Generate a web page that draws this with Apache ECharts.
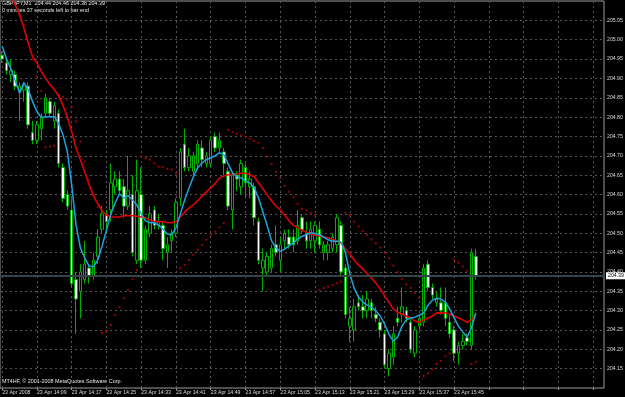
<!DOCTYPE html>
<html>
<head>
<meta charset="utf-8">
<title>GBPJPY,M1</title>
<script src="https://cdn.jsdelivr.net/npm/echarts@6/dist/echarts.min.js"></script>
<style>
html, body { margin: 0; padding: 0; background: #000; }
#chart { width: 625px; height: 397px; }
</style>
</head>
<body>
<div id="chart"></div>
<script>
// one-minute bars, 23 Apr 2008, 14:01 .. 15:50
const openPrices = [
  204.96, 204.94, 204.91, 204.91, 204.87, 204.87, 204.88, 204.76, 204.74, 204.77,
  204.81, 204.84, 204.79, 204.81, 204.67, 204.60, 204.56, 204.38, 204.35, 204.38,
  204.41, 204.39, 204.44, 204.51, 204.55, 204.56, 204.62, 204.64, 204.62, 204.57,
  204.60, 204.43, 204.60, 204.43, 204.50, 204.56, 204.52, 204.52, 204.45, 204.48,
  204.50, 204.59, 204.73, 204.67, 204.66, 204.68, 204.72, 204.68, 204.68, 204.75,
  204.72, 204.71, 204.66, 204.56, 204.65, 204.62, 204.67, 204.62, 204.62, 204.53,
  204.41, 204.40, 204.41, 204.47, 204.43, 204.48, 204.49, 204.49, 204.48, 204.54,
  204.50, 204.48, 204.48, 204.51, 204.45, 204.45, 204.46, 204.47, 204.52, 204.41,
  204.26, 204.25, 204.32, 204.31, 204.30, 204.32, 204.29, 204.27, 204.24, 204.15,
  204.18, 204.28, 204.29, 204.30, 204.27, 204.19, 204.26, 204.27, 204.42, 204.36,
  204.32, 204.32, 204.32, 204.27, 204.25, 204.19, 204.21, 204.23, 204.21, 204.44
];
const highPrices = [
  204.97, 204.95, 204.95, 204.92, 204.89, 204.89, 204.89, 204.79, 204.79, 204.81,
  204.86, 204.85, 204.84, 204.82, 204.68, 204.61, 204.59, 204.40, 204.42, 204.48,
  204.42, 204.45, 204.51, 204.57, 204.56, 204.68, 204.66, 204.66, 204.64, 204.70,
  204.65, 204.69, 204.67, 204.52, 204.57, 204.57, 204.55, 204.53, 204.49, 204.51,
  204.59, 204.72, 204.77, 204.72, 204.71, 204.74, 204.74, 204.71, 204.75, 204.76,
  204.76, 204.72, 204.67, 204.66, 204.66, 204.69, 204.68, 204.66, 204.63, 204.54,
  204.46, 204.45, 204.47, 204.52, 204.49, 204.51, 204.51, 204.51, 204.56, 204.55,
  204.53, 204.53, 204.53, 204.53, 204.48, 204.48, 204.50, 204.55, 204.53, 204.42,
  204.31, 204.33, 204.34, 204.34, 204.35, 204.33, 204.31, 204.28, 204.25, 204.20,
  204.26, 204.31, 204.36, 204.31, 204.28, 204.26, 204.29, 204.42, 204.43, 204.37,
  204.35, 204.36, 204.36, 204.29, 204.26, 204.22, 204.24, 204.24, 204.46, 204.46
];
const lowPrices = [
  204.94, 204.91, 204.89, 204.87, 204.79, 204.84, 204.77, 204.73, 204.73, 204.74,
  204.80, 204.80, 204.77, 204.67, 204.58, 204.56, 204.36, 204.24, 204.28, 204.37,
  204.37, 204.38, 204.42, 204.50, 204.50, 204.53, 204.60, 204.60, 204.54, 204.56,
  204.44, 204.42, 204.41, 204.42, 204.49, 204.51, 204.51, 204.43, 204.41, 204.45,
  204.49, 204.57, 204.66, 204.66, 204.65, 204.67, 204.67, 204.67, 204.67, 204.71,
  204.71, 204.65, 204.56, 204.51, 204.61, 204.60, 204.59, 204.59, 204.52, 204.42,
  204.35, 204.39, 204.40, 204.44, 204.40, 204.46, 204.46, 204.45, 204.47, 204.50,
  204.46, 204.46, 204.45, 204.46, 204.43, 204.43, 204.45, 204.45, 204.39, 204.28,
  204.22, 204.22, 204.30, 204.28, 204.28, 204.28, 204.27, 204.23, 204.15, 204.13,
  204.16, 204.26, 204.27, 204.27, 204.19, 204.18, 204.25, 204.26, 204.35, 204.33,
  204.31, 204.29, 204.26, 204.23, 204.17, 204.16, 204.20, 204.21, 204.20, 204.38
];
const closePrices = [
  204.95, 204.92, 204.92, 204.88, 204.88, 204.88, 204.78, 204.74, 204.78, 204.80,
  204.85, 204.81, 204.83, 204.68, 204.59, 204.57, 204.37, 204.33, 204.40, 204.42,
  204.39, 204.43, 204.49, 204.55, 204.53, 204.63, 204.64, 204.61, 204.57, 204.61,
  204.45, 204.61, 204.43, 204.51, 204.55, 204.52, 204.53, 204.46, 204.47, 204.50,
  204.58, 204.71, 204.67, 204.70, 204.70, 204.73, 204.69, 204.70, 204.74, 204.72,
  204.74, 204.68, 204.57, 204.65, 204.64, 204.68, 204.63, 204.64, 204.54, 204.43,
  204.43, 204.44, 204.46, 204.45, 204.47, 204.50, 204.47, 204.47, 204.52, 204.51,
  204.48, 204.51, 204.52, 204.47, 204.47, 204.47, 204.49, 204.54, 204.40, 204.29,
  204.28, 204.31, 204.31, 204.30, 204.33, 204.30, 204.28, 204.25, 204.16, 204.19,
  204.24, 204.27, 204.31, 204.28, 204.20, 204.25, 204.28, 204.41, 204.36, 204.34,
  204.33, 204.30, 204.28, 204.24, 204.19, 204.21, 204.22, 204.22, 204.45, 204.39
];
// slow moving average (red)
const maSlow = [
  205.160, 205.135, 205.110, 205.090, 205.065, 205.030, 204.990, 204.956, 204.940, 204.918,
  204.900, 204.884, 204.871, 204.855, 204.830, 204.800, 204.762, 204.720, 204.690, 204.659,
  204.625, 204.597, 204.576, 204.558, 204.547, 204.542, 204.542, 204.542, 204.545, 204.545,
  204.545, 204.544, 204.542, 204.540, 204.534, 204.530, 204.530, 204.530, 204.527, 204.527,
  204.530, 204.542, 204.555, 204.565, 204.573, 204.584, 204.597, 204.607, 204.617, 204.628,
  204.643, 204.648, 204.651, 204.653, 204.653, 204.655, 204.655, 204.651, 204.646, 204.630,
  204.615, 204.599, 204.584, 204.570, 204.560, 204.547, 204.532, 204.521, 204.514, 204.507,
  204.503, 204.498, 204.495, 204.493, 204.490, 204.488, 204.484, 204.480, 204.475, 204.459,
  204.446, 204.431, 204.418, 204.408, 204.395, 204.384, 204.371, 204.356, 204.338, 204.322,
  204.304, 204.296, 204.291, 204.286, 204.281, 204.273, 204.270, 204.276, 204.281, 204.286,
  204.294, 204.294, 204.294, 204.291, 204.286, 204.281, 204.276, 204.270, 204.276, 204.291
];
// fast moving average (blue)
const maFast = [
  204.984, 204.950, 204.925, 204.894, 204.862, 204.889, 204.871, 204.840, 204.814, 204.799,
  204.801, 204.801, 204.801, 204.783, 204.754, 204.710, 204.625, 204.521, 204.462, 204.436,
  204.415, 204.413, 204.431, 204.467, 204.508, 204.550, 204.578, 204.602, 204.591, 204.597,
  204.586, 204.573, 204.550, 204.532, 204.527, 204.527, 204.521, 204.511, 204.498, 204.496,
  204.514, 204.550, 204.586, 204.617, 204.646, 204.669, 204.682, 204.690, 204.695, 204.700,
  204.708, 204.703, 204.679, 204.656, 204.646, 204.643, 204.635, 204.630, 204.617, 204.591,
  204.555, 204.519, 204.480, 204.462, 204.453, 204.459, 204.467, 204.475, 204.485, 204.492,
  204.496, 204.501, 204.499, 204.496, 204.490, 204.483, 204.479, 204.479, 204.477, 204.449,
  204.395, 204.358, 204.335, 204.322, 204.314, 204.309, 204.299, 204.286, 204.265, 204.239,
  204.221, 204.231, 204.260, 204.276, 204.281, 204.283, 204.288, 204.294, 204.314, 204.327,
  204.332, 204.330, 204.322, 204.304, 204.281, 204.260, 204.245, 204.232, 204.255, 204.294
];
// parabolic SAR dots
const sarDots = [
  205.182, 205.151, 205.120, 205.091, 205.065, 205.037, 204.993, 204.949, 204.905, 204.868,
  204.722, 204.724, 204.726, 204.858, 204.852, 204.845, 204.826, 204.789, 204.737, 204.685,
  204.638, 204.599, 204.568, 204.242, 204.248, 204.263, 204.289, 204.309, 204.332, 204.353,
  204.381, 204.405, 204.698, 204.694, 204.690, 204.681, 204.672, 204.671, 204.666, 204.664,
  204.655, 204.409, 204.418, 204.431, 204.444, 204.457, 204.470, 204.483, 204.496, 204.504,
  204.515, 204.526, 204.767, 204.762, 204.757, 204.753, 204.749, 204.744, 204.739, 204.734,
  204.720, 204.698, 204.679, 204.659, 204.642, 204.622, 204.607, 204.593, 204.576, 204.563,
  204.559, 204.553, 204.546, 204.353, 204.358, 204.362, 204.366, 204.371, 204.375, 204.553,
  204.547, 204.530, 204.517, 204.506, 204.496, 204.484, 204.474, 204.463, 204.449, 204.435,
  204.416, 204.399, 204.382, 204.368, 204.359, 204.346, 204.333, 204.131, 204.138, 204.148,
  204.162, 204.170, 204.182, 204.189, 204.431, 204.424, 204.414, 204.403, 204.162, 204.168
];
const lastPrice = 204.39;
const firstMinute = 14 * 60 + 1;
const slotCount = 139; // bars plus the empty shift area on the right

let times = [];
for (let i = 0; i < slotCount; i++) {
  let m = firstMinute + i;
  let hh = Math.floor(m / 60);
  let mm = m % 60;
  times.push(hh + ":" + (mm < 10 ? "0" + mm : mm));
}

let candles = [];
for (let i = 0; i < openPrices.length; i++) {
  candles.push([openPrices[i], closePrices[i], lowPrices[i], highPrices[i]]);
}

const font = "Liberation Sans";
const gridColor = "#555555";
const barGreen = "#00b000";

let chart = echarts.init(document.getElementById("chart"), null, { renderer: "canvas" });
chart.setOption({
  animation: false,
  backgroundColor: "#000000",
  grid: {
    left: 0, right: 21, top: 1, bottom: 9,
    show: true,
    borderColor: "#9a9a9a",
    borderWidth: 1,
    outerBoundsMode: "none"
  },
  xAxis: {
    type: "category",
    data: times,
    boundaryGap: true,
    axisLine: { show: false },
    axisTick: { show: true, interval: 7, alignWithLabel: true, length: 2, lineStyle: { color: "#9a9a9a" } },
    axisLabel: {
      interval: 7,
      align: "left",
      margin: 2,
      color: "#dcdcdc",
      fontSize: 5.2,
      fontFamily: font,
      formatter: function (value, index) {
        if (index === 0) return "23 Apr 2008";
        if (index < openPrices.length) return "23 Apr " + value;
        return "";
      }
    },
    splitLine: {
      show: true,
      interval: 7,
      alignWithLabel: true,
      lineStyle: { color: gridColor, type: [2, 3], width: 1 }
    }
  },
  yAxis: {
    type: "value",
    position: "right",
    min: 204.10,
    max: 205.10,
    interval: 0.05,
    scale: true,
    axisLine: { show: false },
    axisTick: { show: false },
    axisLabel: {
      margin: 3,
      color: "#dcdcdc",
      fontSize: 5.2,
      fontFamily: font,
      showMinLabel: false,
      showMaxLabel: false,
      formatter: function (v) { return v.toFixed(2); }
    },
    splitLine: { lineStyle: { color: gridColor, type: [2, 3], width: 1 } }
  },
  series: [
    {
      name: "GBPJPY",
      type: "candlestick",
      data: candles,
      barWidth: 3,
      itemStyle: {
        color: "#000000",
        color0: "#ffffff",
        borderColor: barGreen,
        borderColor0: barGreen,
        borderWidth: 1
      },
      markLine: {
        silent: true,
        symbol: "none",
        data: [{ yAxis: lastPrice }],
        lineStyle: { color: "#36434b", width: 2, type: "solid", opacity: 1 },
        emphasis: { disabled: true },
        label: {
          show: true,
          position: "end",
          distance: 2,
          formatter: lastPrice.toFixed(2),
          backgroundColor: "#ffffff",
          color: "#000000",
          fontSize: 5.2,
          fontFamily: font,
          padding: [1, 2]
        }
      }
    },
    {
      name: "MA slow",
      type: "line",
      data: maSlow,
      symbol: "none",
      lineStyle: { color: "#e00000", width: 1.6 }
    },
    {
      name: "MA fast",
      type: "line",
      data: maFast,
      symbol: "none",
      lineStyle: { color: "#1aa6dc", width: 1.5 }
    },
    {
      name: "SAR",
      type: "scatter",
      data: sarDots,
      symbol: "rect",
      symbolSize: 2,
      itemStyle: { color: "#c00000" }
    }
  ],
  graphic: [
    {
      type: "text", left: 2, top: 1,
      style: { text: "GBPJPY,M1  204.44 204.46 204.38 204.39", fill: "#e6e6e6", font: "5.4px " + font }
    },
    {
      type: "text", left: 2, top: 8,
      style: { text: "0 minutes 37 seconds left to bar end", fill: "#e6e6e6", font: "5.4px " + font }
    },
    {
      type: "text", left: 2, top: 379,
      style: { text: "MT4HF, © 2001-2008 MetaQuotes Software Corp.", fill: "#e6e6e6", font: "5.4px " + font }
    }
  ]
});
</script>
</body>
</html>
